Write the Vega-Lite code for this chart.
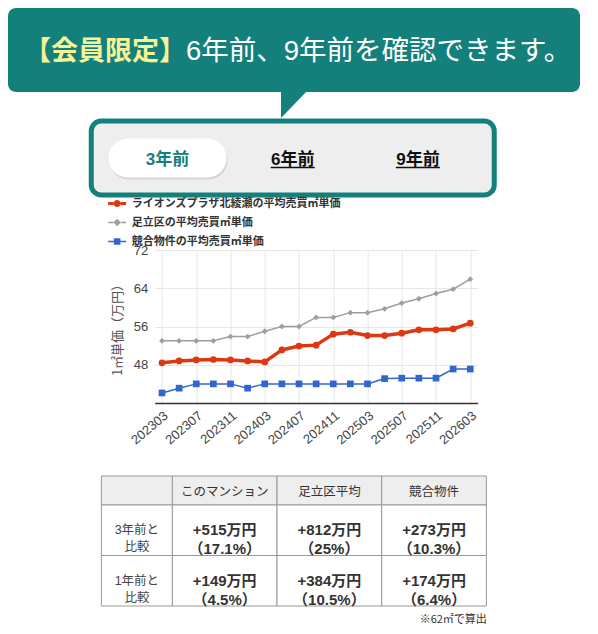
{
  "$schema": "https://vega.github.io/schema/vega-lite/v6.json",
  "background": "white",
  "padding": {"left": 8, "top": 8, "right": 0, "bottom": 0},
  "spacing": 0,
  "center": true,
  "resolve": {"scale": {"color": "independent", "shape": "independent"}, "legend": {"color": "independent", "shape": "independent"}},
  "config": {
    "view": {"stroke": null},
    "font": "Liberation Sans, Noto Sans CJK JP",
    "text": {"font": "Liberation Sans, Noto Sans CJK JP"}
  },
  "datasets": {
    "prices": [
      {"m": "202303", "s": "ライオンズプラザ北綾瀬の平均売買㎡単価", "v": 48.4},
      {"m": "202305", "s": "ライオンズプラザ北綾瀬の平均売買㎡単価", "v": 48.8},
      {"m": "202307", "s": "ライオンズプラザ北綾瀬の平均売買㎡単価", "v": 49.0},
      {"m": "202309", "s": "ライオンズプラザ北綾瀬の平均売買㎡単価", "v": 49.1},
      {"m": "202311", "s": "ライオンズプラザ北綾瀬の平均売買㎡単価", "v": 49.0},
      {"m": "202401", "s": "ライオンズプラザ北綾瀬の平均売買㎡単価", "v": 48.8},
      {"m": "202403", "s": "ライオンズプラザ北綾瀬の平均売買㎡単価", "v": 48.6},
      {"m": "202405", "s": "ライオンズプラザ北綾瀬の平均売買㎡単価", "v": 51.1},
      {"m": "202407", "s": "ライオンズプラザ北綾瀬の平均売買㎡単価", "v": 51.9},
      {"m": "202409", "s": "ライオンズプラザ北綾瀬の平均売買㎡単価", "v": 52.1},
      {"m": "202411", "s": "ライオンズプラザ北綾瀬の平均売買㎡単価", "v": 54.4},
      {"m": "202501", "s": "ライオンズプラザ北綾瀬の平均売買㎡単価", "v": 54.8},
      {"m": "202503", "s": "ライオンズプラザ北綾瀬の平均売買㎡単価", "v": 54.1},
      {"m": "202505", "s": "ライオンズプラザ北綾瀬の平均売買㎡単価", "v": 54.1},
      {"m": "202507", "s": "ライオンズプラザ北綾瀬の平均売買㎡単価", "v": 54.6},
      {"m": "202509", "s": "ライオンズプラザ北綾瀬の平均売買㎡単価", "v": 55.3},
      {"m": "202511", "s": "ライオンズプラザ北綾瀬の平均売買㎡単価", "v": 55.3},
      {"m": "202601", "s": "ライオンズプラザ北綾瀬の平均売買㎡単価", "v": 55.5},
      {"m": "202603", "s": "ライオンズプラザ北綾瀬の平均売買㎡単価", "v": 56.7},
      {"m": "202303", "s": "足立区の平均売買㎡単価", "v": 53.0},
      {"m": "202305", "s": "足立区の平均売買㎡単価", "v": 53.0},
      {"m": "202307", "s": "足立区の平均売買㎡単価", "v": 53.0},
      {"m": "202309", "s": "足立区の平均売買㎡単価", "v": 53.0},
      {"m": "202311", "s": "足立区の平均売買㎡単価", "v": 53.9},
      {"m": "202401", "s": "足立区の平均売買㎡単価", "v": 53.9},
      {"m": "202403", "s": "足立区の平均売買㎡単価", "v": 55.0},
      {"m": "202405", "s": "足立区の平均売買㎡単価", "v": 56.0},
      {"m": "202407", "s": "足立区の平均売買㎡単価", "v": 56.0},
      {"m": "202409", "s": "足立区の平均売買㎡単価", "v": 57.9},
      {"m": "202411", "s": "足立区の平均売買㎡単価", "v": 57.9},
      {"m": "202501", "s": "足立区の平均売買㎡単価", "v": 58.9},
      {"m": "202503", "s": "足立区の平均売買㎡単価", "v": 58.9},
      {"m": "202505", "s": "足立区の平均売買㎡単価", "v": 59.7},
      {"m": "202507", "s": "足立区の平均売買㎡単価", "v": 60.9},
      {"m": "202509", "s": "足立区の平均売買㎡単価", "v": 61.8},
      {"m": "202511", "s": "足立区の平均売買㎡単価", "v": 62.9},
      {"m": "202601", "s": "足立区の平均売買㎡単価", "v": 63.8},
      {"m": "202603", "s": "足立区の平均売買㎡単価", "v": 65.9},
      {"m": "202303", "s": "競合物件の平均売買㎡単価", "v": 42.1},
      {"m": "202305", "s": "競合物件の平均売買㎡単価", "v": 43.1},
      {"m": "202307", "s": "競合物件の平均売買㎡単価", "v": 44.0},
      {"m": "202309", "s": "競合物件の平均売買㎡単価", "v": 44.0},
      {"m": "202311", "s": "競合物件の平均売買㎡単価", "v": 44.0},
      {"m": "202401", "s": "競合物件の平均売買㎡単価", "v": 43.1},
      {"m": "202403", "s": "競合物件の平均売買㎡単価", "v": 44.0},
      {"m": "202405", "s": "競合物件の平均売買㎡単価", "v": 44.0},
      {"m": "202407", "s": "競合物件の平均売買㎡単価", "v": 44.0},
      {"m": "202409", "s": "競合物件の平均売買㎡単価", "v": 44.0},
      {"m": "202411", "s": "競合物件の平均売買㎡単価", "v": 44.0},
      {"m": "202501", "s": "競合物件の平均売買㎡単価", "v": 44.0},
      {"m": "202503", "s": "競合物件の平均売買㎡単価", "v": 44.0},
      {"m": "202505", "s": "競合物件の平均売買㎡単価", "v": 45.1},
      {"m": "202507", "s": "競合物件の平均売買㎡単価", "v": 45.2},
      {"m": "202509", "s": "競合物件の平均売買㎡単価", "v": 45.2},
      {"m": "202511", "s": "競合物件の平均売買㎡単価", "v": 45.2},
      {"m": "202601", "s": "競合物件の平均売買㎡単価", "v": 47.1},
      {"m": "202603", "s": "競合物件の平均売買㎡単価", "v": 47.1}
    ]
  },
  "vconcat": [
    {
      "width": 572,
      "height": 84,
      "view": {"fill": "#13807c", "stroke": null, "cornerRadius": 8},
      "layer": [
        {
          "data": {"values": [{"k": "tail"}]},
          "mark": {"type": "point", "shape": "M-13,38H14V40L-13,68Z", "size": 4, "filled": true, "color": "#13807c", "opacity": 1, "strokeWidth": 0},
          "encoding": {}
        },
        {
          "data": {"values": [{"t": "【会員限定】"}]},
          "mark": {"type": "text", "align": "right", "baseline": "middle", "dx": -108, "dy": 2, "fontSize": 27, "fontWeight": "bold", "color": "#f7f394", "font": "Noto Sans CJK JP"},
          "encoding": {"text": {"field": "t"}}
        },
        {
          "data": {"values": [{"t": "6年前、9年前を確認できます。"}]},
          "mark": {"type": "text", "align": "left", "baseline": "middle", "dx": -108, "dy": 2, "fontSize": 27.5, "color": "#ffffff", "font": "Liberation Sans, Noto Sans CJK JP"},
          "encoding": {"text": {"field": "t"}}
        }
      ]
    },
    {
      "width": 403,
      "height": 74,
      "view": {"fill": "#eeeeee", "stroke": "#13807c", "strokeWidth": 5, "cornerRadius": 10},
      "data": {"values": [{"t": "3年前"}, {"t": "6年前"}, {"t": "9年前"}]},
      "encoding": {
        "x": {"field": "t", "type": "nominal", "scale": {"type": "point", "padding": 0.61, "domain": ["3年前", "6年前", "9年前"]}, "axis": null}
      },
      "layer": [
        {
          "transform": [{"filter": "datum.t === '3年前'"}],
          "mark": {"type": "point", "shape": "M-39.5,-19.5H39.5A19.5,19.5 0 0 1 39.5,19.5H-39.5A19.5,19.5 0 0 1 -39.5,-19.5Z", "size": 4, "filled": true, "color": "#d4d4d4", "opacity": 1, "strokeWidth": 0, "xOffset": 1, "yOffset": 2}
        },
        {
          "transform": [{"filter": "datum.t === '3年前'"}],
          "mark": {"type": "point", "shape": "M-39.5,-19.5H39.5A19.5,19.5 0 0 1 39.5,19.5H-39.5A19.5,19.5 0 0 1 -39.5,-19.5Z", "size": 4, "filled": true, "color": "#ffffff", "opacity": 1, "strokeWidth": 0}
        },
        {
          "mark": {"type": "text", "fontSize": 17, "fontWeight": "bold", "dy": 1.5, "baseline": "middle", "font": "Liberation Sans, Noto Sans CJK JP"},
          "encoding": {
            "text": {"field": "t"},
            "color": {"condition": {"test": "datum.t === '3年前'", "value": "#13807c"}, "value": "#111111"}
          }
        },
        {
          "transform": [{"filter": "datum.t !== '3年前'"}],
          "mark": {"type": "tick", "orient": "horizontal", "size": 44, "thickness": 1.6, "yOffset": 9.5, "color": "#111111", "opacity": 1}
        }
      ]
    },
    {
      "spacing": 28,
      "center": true,
      "resolve": {"scale": {"color": "independent", "shape": "independent"}, "legend": {"color": "independent", "shape": "independent"}},
      "vconcat": [
        {
          "spacing": 0,
          "bounds": "flush",
          "resolve": {"scale": {"color": "independent", "shape": "independent"}, "legend": {"color": "independent", "shape": "independent"}},
          "hconcat": [
            {
              "width": 45,
              "height": 1,
              "data": {"values": []},
              "mark": {"type": "point", "opacity": 0}
            },
            {
              "width": 323,
              "height": 153,
              "data": {"name": "prices"},
              "encoding": {
                "x": {
                  "field": "m", "type": "ordinal", "sort": null,
                  "scale": {"type": "point", "padding": 0.43},
                  "axis": {
                    "values": ["202303", "202307", "202311", "202403", "202407", "202411", "202503", "202507", "202511", "202603"],
                    "labelAngle": -40, "labelFontSize": 13, "labelColor": "#444444", "labelFont": "Liberation Sans",
                    "ticks": false, "domainColor": "#333333", "domainWidth": 1.5,
                    "grid": true, "gridColor": "#e6e6e6", "title": null, "labelPadding": 6
                  }
                },
                "y": {
                  "field": "v", "type": "quantitative",
                  "scale": {"domain": [40, 72], "nice": false, "zero": false},
                  "axis": {
                    "values": [48, 56, 64, 72], "title": "1㎡単価（万円）",
                    "titleFontSize": 13, "titleFontWeight": "normal", "titleColor": "#555555", "titleFont": "Noto Sans CJK JP", "titlePadding": 9,
                    "labelFontSize": 13, "labelColor": "#444444", "labelFont": "Liberation Sans", "labelPadding": 7,
                    "domain": false, "ticks": false, "gridColor": "#e6e6e6"
                  }
                }
              },
              "layer": [
                {
                  "transform": [{"filter": "datum.s === '足立区の平均売買㎡単価'"}],
                  "mark": {"type": "line", "color": "#9e9e9e", "strokeWidth": 1.5}
                },
                {
                  "transform": [{"filter": "datum.s === '競合物件の平均売買㎡単価'"}],
                  "mark": {"type": "line", "color": "#3366cc", "strokeWidth": 1.5}
                },
                {
                  "transform": [{"filter": "datum.s === 'ライオンズプラザ北綾瀬の平均売買㎡単価'"}],
                  "mark": {"type": "line", "color": "#dc3912", "strokeWidth": 3.5}
                },
                {
                  "transform": [{"filter": "datum.s === 'ライオンズプラザ北綾瀬の平均売買㎡単価'"}],
                  "mark": {"type": "point", "shape": "circle", "size": 45, "filled": true, "opacity": 1, "color": "#dc3912"}
                },
                {
                  "transform": [{"filter": "datum.s === '足立区の平均売買㎡単価'"}],
                  "mark": {"type": "point", "shape": "diamond", "size": 34, "filled": true, "opacity": 1, "color": "#9e9e9e"}
                },
                {
                  "transform": [{"filter": "datum.s === '競合物件の平均売買㎡単価'"}],
                  "mark": {"type": "point", "shape": "square", "size": 45, "filled": true, "opacity": 1, "color": "#3366cc"}
                },
                {
                  "mark": {"type": "point", "filled": true, "opacity": 0, "strokeWidth": 0},
                  "encoding": {
                    "color": {
                      "field": "s", "type": "nominal",
                      "scale": {"domain": ["ライオンズプラザ北綾瀬の平均売買㎡単価", "足立区の平均売買㎡単価", "競合物件の平均売買㎡単価"], "range": ["#dc3912", "#9e9e9e", "#3366cc"]},
                      "legend": {"title": null, "orient": "none", "legendX": -43, "legendY": -52, "symbolSize": 100, "symbolOpacity": 1, "symbolStrokeWidth": 0, "labelFontSize": 11, "labelFontWeight": "bold", "labelColor": "#333333", "labelFont": "Noto Sans CJK JP", "rowPadding": 7, "labelOffset": 9, "labelLimit": 300}
                    },
                    "shape": {
                      "field": "s", "type": "nominal",
                      "scale": {
                        "domain": ["ライオンズプラザ北綾瀬の平均売買㎡単価", "足立区の平均売買㎡単価", "競合物件の平均売買㎡単価"],
                        "range": [
                          "M-1.8,-0.3H-0.7V0.3H-1.8Z M0.7,-0.3H1.8V0.3H0.7Z M-0.7,0A0.7,0.7 0 1,0 0.7,0A0.7,0.7 0 1,0 -0.7,0Z",
                          "M-1.8,-0.15H-0.75V0.15H-1.8Z M0.75,-0.15H1.8V0.15H0.75Z M0,-0.75L0.75,0L0,0.75L-0.75,0Z",
                          "M-1.8,-0.15H-0.65V0.15H-1.8Z M0.65,-0.15H1.8V0.15H0.65Z M-0.65,-0.65H0.65V0.65H-0.65Z"
                        ]
                      },
                      "legend": {"title": null, "orient": "none", "legendX": -43, "legendY": -52, "symbolSize": 100, "symbolOpacity": 1, "symbolStrokeWidth": 0, "labelFontSize": 11, "labelFontWeight": "bold", "labelColor": "#333333", "labelFont": "Noto Sans CJK JP", "rowPadding": 7, "labelOffset": 9, "labelLimit": 300}
                    }
                  }
                }
              ]
            }
          ]
        },
        {
          "columns": 2,
          "spacing": 0,
          "bounds": "flush",
          "title": {"text": "※62㎡で算出", "orient": "bottom", "anchor": "end", "fontSize": 11, "fontWeight": "normal", "color": "#333333", "font": "Noto Sans CJK JP", "offset": 6},
          "concat": [
            {
              "width": 71,
              "height": 29,
              "data": {"values": [{"c": "空"}]},
              "mark": {"type": "rect", "fill": "#eeeeee", "stroke": "#999999", "strokeWidth": 1},
              "encoding": {
                "x": {"field": "c", "type": "nominal", "scale": {"paddingInner": 0, "paddingOuter": 0}, "axis": null}
              }
            },
            {
              "width": 314,
              "height": 29,
              "data": {"values": [{"c": "このマンション"}, {"c": "足立区平均"}, {"c": "競合物件"}]},
              "encoding": {
                "x": {"field": "c", "type": "nominal", "scale": {"domain": ["このマンション", "足立区平均", "競合物件"], "paddingInner": 0, "paddingOuter": 0}, "axis": null}
              },
              "layer": [
                {"mark": {"type": "rect", "fill": "#eeeeee", "stroke": "#999999", "strokeWidth": 1}},
                {"mark": {"type": "text", "fontSize": 12.5, "color": "#333333", "dy": 1, "font": "Noto Sans CJK JP"}, "encoding": {"text": {"field": "c"}}}
              ]
            },
            {
              "width": 71,
              "height": 101,
              "data": {"values": [{"r": "3年前と\n比較"}, {"r": "1年前と\n比較"}]},
              "encoding": {
                "y": {"field": "r", "type": "nominal", "scale": {"domain": ["3年前と\n比較", "1年前と\n比較"], "paddingInner": 0, "paddingOuter": 0}, "axis": null}
              },
              "layer": [
                {"mark": {"type": "rect", "fill": "#ffffff", "stroke": "#999999", "strokeWidth": 1}},
                {"mark": {"type": "text", "fontSize": 12.5, "color": "#444444", "lineBreak": "\n", "lineHeight": 17, "font": "Liberation Sans, Noto Sans CJK JP"}, "encoding": {"text": {"field": "r"}}}
              ]
            },
            {
              "width": 314,
              "height": 101,
              "data": {"values": [
                {"c": "このマンション", "r": "3年前", "v": "+515万円\n（17.1%）"},
                {"c": "足立区平均", "r": "3年前", "v": "+812万円\n（25%）"},
                {"c": "競合物件", "r": "3年前", "v": "+273万円\n（10.3%）"},
                {"c": "このマンション", "r": "1年前", "v": "+149万円\n（4.5%）"},
                {"c": "足立区平均", "r": "1年前", "v": "+384万円\n（10.5%）"},
                {"c": "競合物件", "r": "1年前", "v": "+174万円\n（6.4%）"}
              ]},
              "encoding": {
                "x": {"field": "c", "type": "nominal", "scale": {"domain": ["このマンション", "足立区平均", "競合物件"], "paddingInner": 0, "paddingOuter": 0}, "axis": null},
                "y": {"field": "r", "type": "nominal", "scale": {"domain": ["3年前", "1年前"], "paddingInner": 0, "paddingOuter": 0}, "axis": null}
              },
              "layer": [
                {"mark": {"type": "rect", "fill": "#ffffff", "stroke": "#999999", "strokeWidth": 1}},
                {"mark": {"type": "text", "fontSize": 15, "fontWeight": "bold", "color": "#333333", "lineBreak": "\n", "lineHeight": 19, "font": "Liberation Sans, Noto Sans CJK JP"}, "encoding": {"text": {"field": "v"}}}
              ]
            }
          ]
        }
      ]
    }
  ]
}
